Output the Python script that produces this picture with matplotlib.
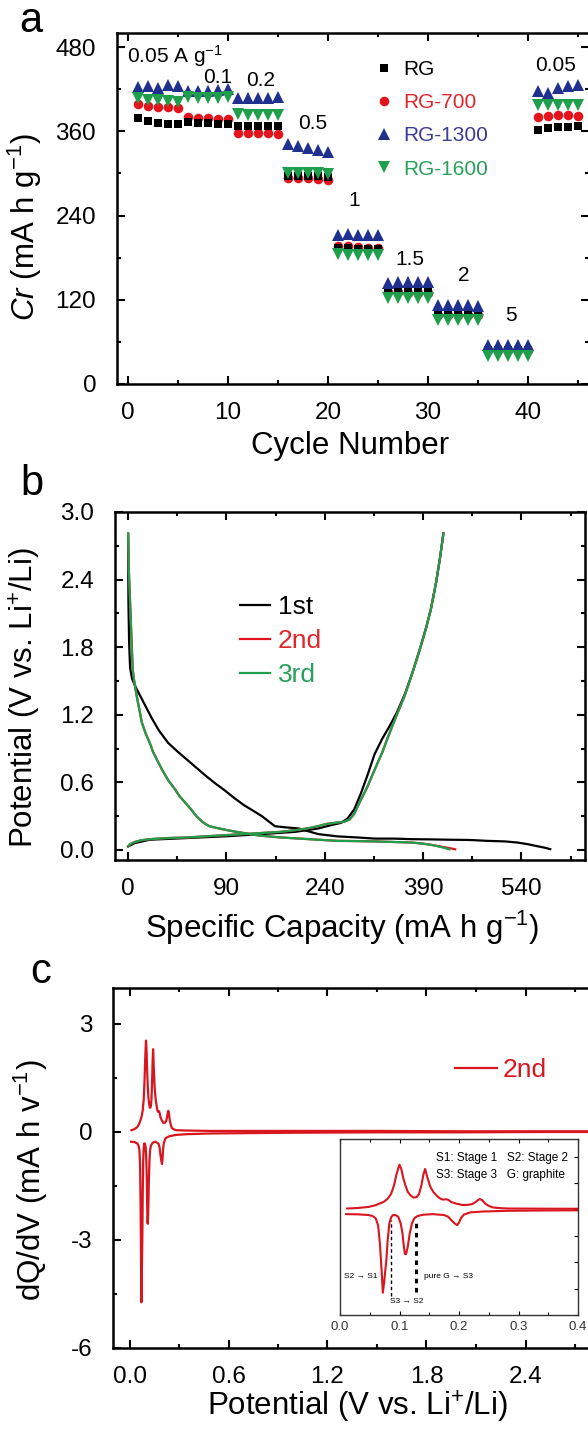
import matplotlib
matplotlib.use('Agg')
import matplotlib.pyplot as plt
from matplotlib.ticker import MultipleLocator, FixedLocator, FormatStrFormatter

plt.rcParams['font.family'] = ['Liberation Sans', 'DejaVu Sans']
plt.rcParams['mathtext.fontset'] = 'custom'
plt.rcParams['mathtext.rm'] = 'Liberation Sans'
plt.rcParams['mathtext.it'] = 'Liberation Sans:italic'
plt.rcParams['mathtext.bf'] = 'Liberation Sans:bold'
plt.rcParams['axes.unicode_minus'] = False

# ---------------- panel a: rate capability ----------------
cycles = list(range(1, 46))
cap_rg = [379, 374, 372, 371, 370, 373, 372, 372, 371, 371,
          367, 367, 367, 367, 367, 296, 296, 297, 296, 295,
          194, 194, 193, 193, 193, 133, 132, 133, 136, 133,
          102, 102, 104, 103, 102, 48, 48, 48, 48, 48,
          362, 365, 366, 366, 367]
cap_rg700 = [399, 396, 395, 395, 393, 380, 379, 379, 378, 378,
             358, 357, 357, 357, 356, 293, 293, 293, 292, 290,
             197, 196, 195, 194, 194, 131, 131, 129, 130, 130,
             99, 99, 98, 98, 98, 48, 48, 48, 48, 48,
             380, 382, 383, 383, 382]
cap_rg1300 = [423, 424, 422, 426, 424, 418, 418, 418, 419, 420,
              408, 408, 408, 408, 409, 342, 339, 336, 333, 331,
              212, 214, 212, 212, 212, 144, 145, 145, 146, 145,
              112, 112, 112, 112, 111, 56, 56, 56, 56, 56,
              418, 415, 421, 424, 426]
cap_rg1600 = [408, 405, 404, 403, 402, 409, 408, 408, 408, 409,
              384, 383, 383, 383, 383, 300, 300, 301, 301, 299,
              185, 184, 184, 184, 184, 122, 122, 122, 122, 122,
              91, 91, 91, 91, 91, 40, 40, 40, 40, 40,
              398, 398, 398, 398, 398]
series_a = ['RG', 'RG-700', 'RG-1300', 'RG-1600']
rate_labels = ['0.05 A g$^{-1}$', '0.1', '0.2', '0.5', '1', '1.5', '2', '5', '0.05']
rate_label_x = [-0.1, 9.0, 13.3, 18.5, 22.6, 28.2, 33.6, 38.3, 42.8]
rate_label_y = [467, 437, 432, 371, 261, 177, 154, 97, 454]

# ---------------- panel b: charge/discharge profiles ----------------
b_tick_pos = [0, 150, 300, 450, 600]
b_tick_labels = ['0', '90', '240', '390', '540']
d1_x = [0, 0.5, 1.5, 3, 6, 12, 20, 28, 36, 47, 61, 76, 90, 104, 118, 133, 147, 162, 176,
        190, 204, 215, 224, 240, 260, 290, 319, 350, 376, 405, 433, 462, 491, 520,
        548, 575, 594, 610, 622, 635, 644]
d1_y = [2.8, 2.2, 1.85, 1.62, 1.52, 1.44, 1.35, 1.26, 1.17, 1.06, 0.95, 0.87, 0.80, 0.73,
        0.66, 0.59, 0.53, 0.46, 0.40, 0.35, 0.30, 0.25, 0.21, 0.20, 0.19, 0.14, 0.12,
        0.11, 0.10, 0.10, 0.095, 0.093, 0.09, 0.088, 0.08, 0.075, 0.065, 0.05, 0.035,
        0.02, 0.006]
c1_x = [0, 10, 33, 90, 147, 204, 255, 290, 310, 325, 335, 345, 355, 365, 376, 388,
        399, 410, 422, 433, 445, 455, 462, 470, 476, 481]
c1_y = [0.03, 0.06, 0.09, 0.105, 0.12, 0.14, 0.16, 0.19, 0.22, 0.24, 0.28, 0.36, 0.5,
        0.66, 0.85, 0.99, 1.1, 1.22, 1.38, 1.56, 1.78, 1.98, 2.14, 2.38, 2.6, 2.81]
d2_x = [0, 1, 3, 5, 7, 10, 13, 17, 21, 27, 33, 38, 44, 52, 61, 70, 78, 87, 96, 104,
        113, 118, 124, 135, 147, 160, 176, 190, 204, 233, 262, 290, 319, 348, 376,
        405, 433, 450, 462, 476, 491, 499]
d2_y = [2.81, 2.5, 2.2, 1.9, 1.6, 1.47, 1.37, 1.25, 1.13, 1.03, 0.95, 0.87, 0.80, 0.71,
        0.62, 0.55, 0.48, 0.42, 0.36, 0.30, 0.25, 0.23, 0.21, 0.195, 0.18, 0.165,
        0.15, 0.135, 0.125, 0.11, 0.10, 0.09, 0.08, 0.078, 0.075, 0.07, 0.065, 0.055,
        0.045, 0.03, 0.015, 0.005]
c2_x = [0, 3, 10, 20, 33, 61, 90, 118, 147, 176, 204, 233, 255, 273, 290, 302, 316,
        330, 338, 345, 353, 365, 376, 388, 399, 410, 422, 433, 445, 455, 462, 470,
        476, 481]
c2_y = [0.03, 0.05, 0.07, 0.085, 0.095, 0.105, 0.11, 0.12, 0.13, 0.14, 0.15, 0.16,
        0.175, 0.19, 0.21, 0.23, 0.24, 0.25, 0.27, 0.32, 0.42, 0.56, 0.71, 0.87, 1.04,
        1.2, 1.37, 1.56, 1.78, 1.98, 2.14, 2.38, 2.6, 2.81]
d3_x = [0, 1, 3, 5, 7, 10, 13, 17, 21, 27, 33, 38, 44, 52, 61, 70, 78, 87, 96, 104,
        113, 118, 124, 135, 147, 160, 176, 190, 204, 233, 262, 290, 319, 348, 376,
        405, 433, 450, 462, 474, 484, 490]
d3_y = d2_y
c3_x = c2_x
c3_y = c2_y

# ---------------- panel c: dQ/dV ----------------
chg_v = [0.012, 0.03, 0.048, 0.06, 0.073, 0.08, 0.086, 0.091, 0.095, 0.098, 0.100,
         0.103, 0.106, 0.110, 0.114, 0.119, 0.124, 0.129, 0.133, 0.137, 0.140, 0.143,
         0.147, 0.152, 0.157, 0.162, 0.167, 0.171, 0.175, 0.178, 0.182, 0.187, 0.195,
         0.206, 0.215, 0.222, 0.228, 0.232, 0.235, 0.239, 0.244, 0.25, 0.257, 0.27,
         0.283, 0.35, 0.5, 1.0, 1.5, 2.0, 2.5, 3.0]
chg_q = [0.05, 0.08, 0.14, 0.24, 0.42, 0.6, 0.89, 1.4, 2.0, 2.35, 2.54, 2.3, 1.83, 1.35,
         0.99, 0.78, 0.67, 0.7, 0.89, 1.4, 1.95, 2.30, 1.8, 1.27, 0.98, 0.80, 0.65,
         0.57, 0.56, 0.58, 0.54, 0.42, 0.33, 0.25, 0.26, 0.30, 0.42, 0.53, 0.59, 0.52,
         0.33, 0.2, 0.11, 0.07, 0.05, 0.04, 0.03, 0.03, 0.03, 0.02, 0.02, 0.02]
dis_v = [0.010, 0.03, 0.048, 0.055, 0.060, 0.064, 0.067, 0.070, 0.072, 0.074, 0.076,
         0.078, 0.080, 0.083, 0.086, 0.089, 0.093, 0.098, 0.102, 0.105, 0.107, 0.109,
         0.111, 0.114, 0.117, 0.121, 0.125, 0.130, 0.140, 0.156, 0.175, 0.182, 0.187,
         0.192, 0.197, 0.200, 0.203, 0.208, 0.219, 0.240, 0.283, 0.35, 0.5, 1.0, 1.5,
         2.0, 2.5, 3.0]
dis_q = [-0.27, -0.28, -0.32, -0.38, -0.51, -0.9, -1.92, -3.5, -4.73, -4.2, -3.5, -2.85,
         -1.8, -0.79, -0.45, -0.32, -0.32, -0.42, -0.8, -1.35, -2.0, -2.52, -2.55,
         -2.10, -1.4, -0.79, -0.5, -0.38, -0.3, -0.27, -0.32, -0.42, -0.61, -0.78,
         -0.89, -0.75, -0.51, -0.3, -0.17, -0.12, -0.08, -0.06, -0.04, -0.02, -0.01,
         -0.01, 0.0, 0.0]
transition_v = [0.086, 0.128]

# ---------------- colours ----------------
BLACK = '#000000'
RED = '#e4141c'
BLUE = '#20308f'
GREEN = '#1f9e4c'
RED_TXT = '#e0252b'
BLUE_TXT = '#3b3b94'
GREEN_TXT = '#27a05a'
CRED = '#d9151e'

W, H = 588, 1429
fig = plt.figure(figsize=(W / 100, H / 100), dpi=100)


def rect(l, t, r, b):
    return [l / W, 1 - b / H, (r - l) / W, (b - t) / H]


def style(ax, lw=1.8):
    for s in ax.spines.values():
        s.set_linewidth(lw)
    ax.tick_params(which='both', direction='in', top=True, right=True, width=1.5,
                   labelsize=17.5)
    ax.tick_params(axis='y', which='both', pad=15)
    ax.tick_params(axis='x', which='both', pad=13)
    ax.tick_params(which='major', length=5.5)
    ax.tick_params(which='minor', length=3.2)


LABEL_FS = 22.5

# ---------------- panel a ----------------
axa = fig.add_axes(rect(117, 33, 589, 384))
style(axa)
ms_sq, ms_c, ms_t = 6.1, 6.9, 8.5
h700, = axa.plot(cycles, cap_rg700, 'o', color=RED, ms=ms_c, mew=0, label=series_a[1])
hrg, = axa.plot(cycles, cap_rg, 's', color=BLACK, ms=ms_sq, mew=0, label=series_a[0])
h1300, = axa.plot(cycles, cap_rg1300, '^', color=BLUE, ms=ms_t, mew=0, label=series_a[2])
h1600, = axa.plot(cycles, cap_rg1600, 'v', color=GREEN, ms=ms_t, mew=0, label=series_a[3])
axa.set_xlim(-1.1, 46.1)
axa.set_ylim(0, 500)
axa.xaxis.set_major_locator(MultipleLocator(10))
axa.xaxis.set_minor_locator(MultipleLocator(5))
axa.yaxis.set_major_locator(MultipleLocator(120))
axa.yaxis.set_minor_locator(MultipleLocator(60))
axa.set_xlabel('Cycle Number', fontsize=LABEL_FS)
axa.set_ylabel('$Cr$ (mA h g$^{-1}$)', fontsize=LABEL_FS)
axa.xaxis.set_label_coords(0.494, -0.135)
axa.yaxis.set_label_coords(-0.155, 0.447)
leg = axa.legend(handles=[hrg, h700, h1300, h1600], loc='upper left',
                 bbox_to_anchor=(0.547, 0.923), frameon=False, fontsize=15,
                 handlelength=0.8, handletextpad=0.55, labelspacing=0.68,
                 borderpad=0, borderaxespad=0, numpoints=1, markerscale=1.0)
for t, c in zip(leg.get_texts(), [BLACK, RED_TXT, BLUE_TXT, GREEN_TXT]):
    t.set_color(c)
for lab, x, y in zip(rate_labels, rate_label_x, rate_label_y):
    axa.text(x, y, lab, fontsize=15, ha='left' if lab.startswith('0.05 A') else 'center',
             va='center')

# ---------------- panel b ----------------
axb = fig.add_axes(rect(115, 512, 585, 860))
style(axb)
lw_b = 1.6
axb.plot(d1_x, d1_y, color=BLACK, lw=lw_b, label='1st')
axb.plot(c1_x, c1_y, color=BLACK, lw=lw_b)
axb.plot(d2_x, d2_y, color=RED, lw=lw_b, label='2nd')
axb.plot(c2_x, c2_y, color=RED, lw=lw_b)
axb.plot(d3_x, d3_y, color=GREEN, lw=lw_b, label='3rd')
axb.plot(c3_x, c3_y, color=GREEN, lw=lw_b)
axb.set_xlim(-20, 697)
axb.set_ylim(-0.09, 3.0)
axb.xaxis.set_major_locator(FixedLocator(b_tick_pos))
axb.set_xticklabels(b_tick_labels)
axb.xaxis.set_minor_locator(MultipleLocator(75))
axb.yaxis.set_major_locator(MultipleLocator(0.6))
axb.yaxis.set_minor_locator(MultipleLocator(0.3))
axb.yaxis.set_major_formatter(FormatStrFormatter('%.1f'))
axb.set_xlabel('Specific Capacity (mA h g$^{-1}$)', fontsize=LABEL_FS)
axb.set_ylabel('Potential (V vs. Li$^{+}$/Li)', fontsize=LABEL_FS)
axb.xaxis.set_label_coords(0.483, -0.14)
axb.yaxis.set_label_coords(-0.153, 0.466)
legb = axb.legend(loc='upper left', bbox_to_anchor=(0.266, 0.762), frameon=False,
                  fontsize=19, handlelength=1.15, handletextpad=0.28, labelspacing=0.38,
                  borderpad=0, borderaxespad=0)
for t, c in zip(legb.get_texts(), [BLACK, RED_TXT, GREEN_TXT]):
    t.set_color(c)

# ---------------- panel c ----------------
axc = fig.add_axes(rect(113, 988, 608, 1348))
style(axc)
axc.plot(chg_v, chg_q, color=CRED, lw=1.6, label='2nd')
axc.plot(dis_v, dis_q, color=CRED, lw=1.6)
axc.set_xlim(-0.1, 2.9)
axc.set_ylim(-6, 4)
axc.xaxis.set_major_locator(MultipleLocator(0.6))
axc.xaxis.set_minor_locator(MultipleLocator(0.3))
axc.xaxis.set_major_formatter(FormatStrFormatter('%.1f'))
axc.yaxis.set_major_locator(MultipleLocator(3))
axc.yaxis.set_minor_locator(MultipleLocator(1.5))
axc.set_xlabel('Potential (V vs. Li$^{+}$/Li)', fontsize=LABEL_FS)
axc.set_ylabel('dQ/dV (mA h v$^{-1}$)', fontsize=LABEL_FS)
axc.xaxis.set_label_coords(0.493, -0.112)
axc.yaxis.set_label_coords(-0.127, 0.467)
legc = axc.legend(loc='upper left', bbox_to_anchor=(0.691, 0.805), frameon=False,
                  fontsize=19, handlelength=1.6, handletextpad=0.2,
                  borderpad=0, borderaxespad=0)
for t in legc.get_texts():
    t.set_color(CRED)

# inset
axi = fig.add_axes(rect(340, 1139, 578, 1315))
for s in axi.spines.values():
    s.set_linewidth(1.0)
    s.set_color('#333333')
axi.plot(chg_v, chg_q, color=CRED, lw=1.5)
axi.plot(dis_v, dis_q, color=CRED, lw=1.5)
axi.set_xlim(0, 0.4)
axi.set_ylim(-6, 4)
axi.xaxis.set_major_locator(MultipleLocator(0.1))
axi.xaxis.set_minor_locator(MultipleLocator(0.05))
axi.xaxis.set_major_formatter(FormatStrFormatter('%.1f'))
axi.yaxis.set_major_locator(MultipleLocator(1.5))
axi.set_yticklabels([])
axi.tick_params(which='both', direction='in', top=True, right=True, width=0.8,
                labelsize=9.5, labelcolor='#333333', pad=4)
axi.tick_params(axis='y', left=False)
axi.tick_params(which='major', length=3)
axi.tick_params(which='minor', length=2)
axi.vlines(transition_v[0], -4.9, -0.6, colors='black', lw=1.0, linestyles=(0, (2.5, 2)))
axi.vlines(transition_v[1], -4.7, -0.66, colors='black', lw=2.2, linestyles=(0, (1.5, 1.5)))
axi.text(0.161, 2.92, 'S1: Stage 1   S2: Stage 2', fontsize=8.5, va='center', ha='left')
axi.text(0.161, 1.98, 'S3: Stage 3   G: graphite', fontsize=8.5, va='center', ha='left')
axi.text(0.006, -3.79, 'S2 \u2192 S1', fontsize=6, va='center', ha='left')
axi.text(0.112, -5.25, 'S3 \u2192 S2', fontsize=6, va='center', ha='center')
axi.text(0.142, -3.79, 'pure G \u2192 S3', fontsize=6, va='center', ha='left')

# panel letters
fig.text(19 / W, 1 - 32 / H, 'a', fontsize=30, ha='left', va='baseline')
fig.text(20 / W, 1 - 495 / H, 'b', fontsize=30, ha='left', va='baseline')
fig.text(30 / W, 1 - 983 / H, 'c', fontsize=30, ha='left', va='baseline')

fig.savefig('out.png', dpi=100)
